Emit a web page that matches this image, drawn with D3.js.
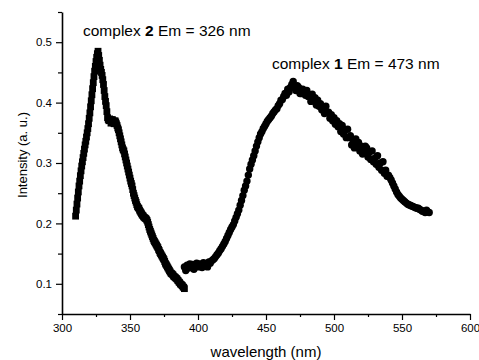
<!DOCTYPE html>
<html>
<head>
<meta charset="UTF-8">
<script src="https://cdn.jsdelivr.net/npm/d3@7"></script>
<style>
  * { margin: 0; padding: 0; }
  body { background: #fff; width: 479px; height: 360px; overflow: hidden; }
  svg text { font-family: "Liberation Sans", Arial, sans-serif; fill: #000; }
</style>
</head>
<body>
<svg id="chart" width="479" height="360"></svg>
<script>
// complex 2 emission (squares), 310-390 nm, 0.5 nm step
const c2Start = 310;
const c2Step = 0.5;
const c2Values = [
  0.212, 0.222, 0.232, 0.242, 0.252, 0.262, 0.27, 0.279, 0.287, 0.295,
  0.302, 0.309, 0.316, 0.323, 0.33, 0.336, 0.343, 0.35, 0.357, 0.365,
  0.374, 0.383, 0.393, 0.403, 0.413, 0.423, 0.433, 0.443, 0.452, 0.46,
  0.468, 0.475, 0.481, 0.485, 0.478, 0.47, 0.462, 0.455, 0.45, 0.445,
  0.438, 0.43, 0.42, 0.41, 0.402, 0.395, 0.385, 0.375, 0.372, 0.37,
  0.373, 0.372, 0.366, 0.368, 0.372, 0.37, 0.366, 0.365, 0.37, 0.368,
  0.365, 0.362, 0.358, 0.355, 0.35, 0.345, 0.34, 0.335, 0.33, 0.325,
  0.322, 0.32, 0.315, 0.31, 0.305, 0.30, 0.295, 0.29, 0.285, 0.28,
  0.275, 0.27, 0.266, 0.262, 0.256, 0.25, 0.246, 0.242, 0.238, 0.235,
  0.231, 0.228, 0.226, 0.225, 0.222, 0.22, 0.218, 0.216, 0.214, 0.213,
  0.211, 0.21, 0.209, 0.208, 0.207, 0.205, 0.202, 0.198, 0.194, 0.19,
  0.187, 0.184, 0.181, 0.178, 0.175, 0.172, 0.17, 0.168, 0.166, 0.164,
  0.162, 0.16, 0.157, 0.155, 0.152, 0.15, 0.148, 0.146, 0.144, 0.142,
  0.14, 0.137, 0.134, 0.132, 0.13, 0.128, 0.126, 0.124, 0.122, 0.12,
  0.118, 0.117, 0.116, 0.115, 0.113, 0.112, 0.111, 0.11, 0.109, 0.108,
  0.106, 0.105, 0.103, 0.102, 0.1, 0.099, 0.098, 0.097, 0.095, 0.094,
  0.092
];

// complex 1 emission (circles), 390-570 nm, 1 nm step
const c1Start = 390;
const c1Step = 1;
const c1Values = [
  0.128, 0.122, 0.131, 0.126, 0.133, 0.127, 0.132, 0.124, 0.13, 0.134,
  0.128, 0.133, 0.131, 0.127, 0.135, 0.13, 0.133, 0.128, 0.136, 0.134,
  0.138, 0.14, 0.142, 0.145, 0.148, 0.151, 0.155, 0.158, 0.162, 0.166,
  0.17, 0.175, 0.18, 0.185, 0.19, 0.194, 0.198, 0.204, 0.21, 0.216,
  0.222, 0.23, 0.238, 0.246, 0.255, 0.262, 0.27, 0.28, 0.29, 0.298,
  0.305, 0.312, 0.32, 0.328, 0.335, 0.342, 0.348, 0.352, 0.357, 0.361,
  0.365, 0.369, 0.372, 0.375, 0.378, 0.382, 0.385, 0.388, 0.39, 0.395,
  0.398, 0.404, 0.405, 0.41, 0.415, 0.412, 0.422, 0.418, 0.425, 0.43,
  0.435, 0.425, 0.42, 0.428, 0.425, 0.415, 0.415, 0.422, 0.42, 0.412,
  0.42, 0.41, 0.412, 0.402, 0.414, 0.404, 0.408, 0.396, 0.404, 0.394,
  0.398, 0.388, 0.392, 0.382, 0.394, 0.384, 0.384, 0.374, 0.38, 0.37,
  0.375, 0.364, 0.37, 0.36, 0.365, 0.352, 0.362, 0.348, 0.355, 0.342,
  0.356, 0.342, 0.345, 0.33, 0.338, 0.325, 0.34, 0.328, 0.334, 0.32,
  0.328, 0.315, 0.322, 0.328, 0.325, 0.31, 0.318, 0.306, 0.32, 0.302,
  0.308, 0.298, 0.312, 0.293, 0.30, 0.288, 0.302, 0.283, 0.288, 0.278,
  0.28, 0.276, 0.272, 0.267, 0.262, 0.257, 0.252, 0.248, 0.245, 0.242,
  0.24, 0.238, 0.236, 0.234, 0.232, 0.231, 0.23, 0.229, 0.228, 0.227,
  0.226, 0.225, 0.225, 0.223, 0.222, 0.22, 0.22, 0.218, 0.222, 0.219,
  0.218
];

const xTicks = [300, 350, 400, 450, 500, 550, 600];
const xMinor = [325, 375, 425, 475, 525, 575];
const yTicks = [0.1, 0.2, 0.3, 0.4, 0.5];
const yMinor = [0.05, 0.15, 0.25, 0.35, 0.45, 0.55];

const c2 = c2Values.map((v, i) => ({ x: c2Start + i * c2Step, y: v }));
const c1 = c1Values.map((v, i) => ({ x: c1Start + i * c1Step, y: v }));

const svg = d3.select('#chart');
const x = d3.scaleLinear().domain([300, 600]).range([62, 470]);
const y = d3.scaleLinear().domain([0.05, 0.55]).range([314, 12]);

// minor ticks
svg.append('g')
  .attr('transform', 'translate(0,314)')
  .call(d3.axisBottom(x).tickValues(xMinor).tickSize(3).tickFormat(''))
  .call(g => g.select('.domain').remove());
svg.append('g')
  .attr('transform', 'translate(62,0)')
  .call(d3.axisLeft(y).tickValues(yMinor).tickSize(4).tickFormat(''))
  .call(g => g.select('.domain').remove());

// major axes
svg.append('g')
  .attr('transform', 'translate(0,314)')
  .call(d3.axisBottom(x).tickValues(xTicks).tickSize(6).tickSizeOuter(0).tickPadding(4));
svg.append('g')
  .attr('transform', 'translate(62,0)')
  .call(d3.axisLeft(y).tickValues(yTicks).tickSize(6).tickSizeOuter(0).tickPadding(4)
    .tickFormat(d3.format('.1f')));

svg.selectAll('.domain').attr('stroke-width', 1.6);
svg.selectAll('.tick line').attr('stroke-width', 1.2);
svg.selectAll('.tick text').attr('font-size', 11.5).attr('font-family', '"Liberation Sans", Arial, sans-serif');

// markers
svg.append('g')
  .selectAll('rect')
  .data(c2)
  .join('rect')
  .attr('x', d => x(d.x) - 3.4)
  .attr('y', d => y(d.y) - 3.4)
  .attr('width', 6.8)
  .attr('height', 6.8)
  .attr('fill', '#000');

svg.append('g')
  .selectAll('circle')
  .data(c1)
  .join('circle')
  .attr('cx', d => x(d.x))
  .attr('cy', d => y(d.y))
  .attr('r', 3.7)
  .attr('fill', '#000');

// labels
const lab2 = svg.append('text').attr('x', 83).attr('y', 36).attr('font-size', 15.5);
lab2.append('tspan').text('complex ');
lab2.append('tspan').attr('font-weight', 'bold').text('2');
lab2.append('tspan').text(' Em = 326 nm');

const lab1 = svg.append('text').attr('x', 272).attr('y', 69).attr('font-size', 15.5);
lab1.append('tspan').text('complex ');
lab1.append('tspan').attr('font-weight', 'bold').text('1');
lab1.append('tspan').text(' Em = 473 nm');

svg.append('text')
  .attr('x', 266).attr('y', 357)
  .attr('text-anchor', 'middle')
  .attr('font-size', 15)
  .text('wavelength (nm)');

svg.append('text')
  .attr('transform', 'translate(27,155) rotate(-90)')
  .attr('text-anchor', 'middle')
  .attr('font-size', 13)
  .text('Intensity (a. u.)');
</script>
</body>
</html>
